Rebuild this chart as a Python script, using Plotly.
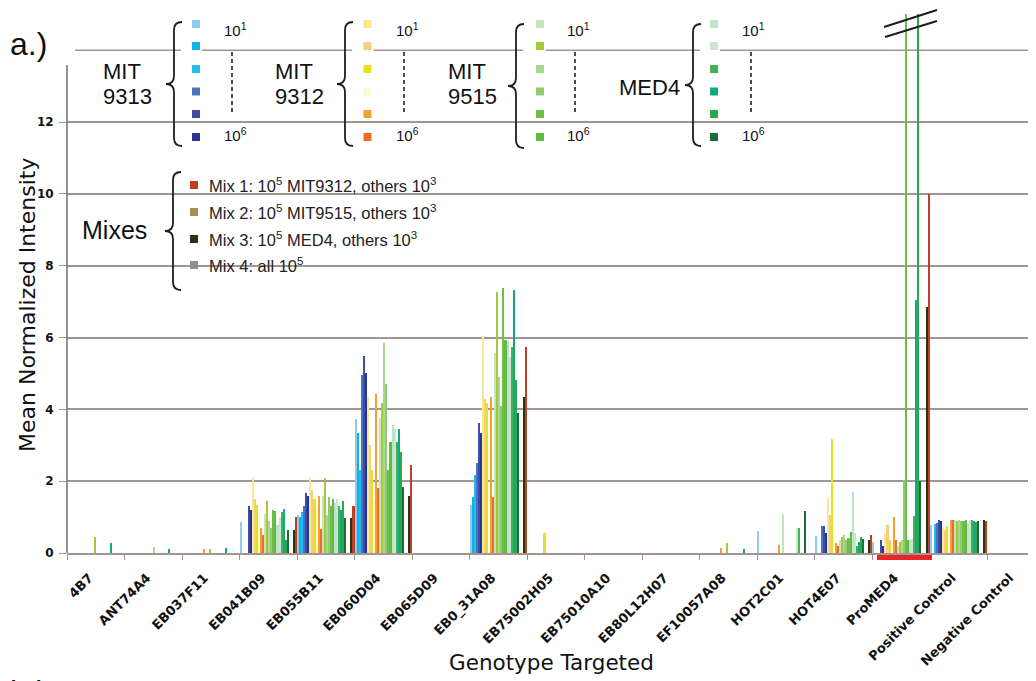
import plotly.graph_objects as go

categories = ["4B7", "ANT74A4", "EB037F11", "EB041B09", "EB055B11", "EB060D04",
              "EB065D09", "EB0_31A08", "EB75002H05", "EB75010A10", "EB80L12H07",
              "EF10057A08", "HOT2C01", "HOT4E07", "ProMED4", "Positive Control",
              "Negative Control"]

# rows: dilution 10^1 ... 10^6 ; columns: categories
mit9313 = [
    [0, 0, 0, 0.87, 1.06, 3.72, 0, 1.34, 0, 0, 0, 0, 0.6, 0.47, 0.3, 0.78, 0],
    [0, 0, 0, 0, 1.0, 3.34, 0, 1.57, 0, 0, 0, 0, 0, 0, 0, 0, 0],
    [0, 0, 0, 0, 1.15, 2.31, 0, 2.17, 0, 0, 0, 0, 0, 0, 0, 0.8, 0],
    [0, 0, 0, 0, 1.3, 4.96, 0, 2.52, 0, 0, 0, 0, 0, 0.75, 0, 0.83, 0],
    [0, 0, 0, 1.32, 1.67, 5.49, 0, 3.61, 0, 0, 0, 0, 0, 0.75, 0.36, 0.92, 0],
    [0, 0, 0, 1.2, 1.58, 5.0, 0, 3.34, 0, 0, 0, 0, 0, 0.55, 0.2, 0.9, 0],
]
mit9312 = [
    [0, 0, 0, 2.12, 2.12, 4.35, 0, 6.03, 0, 0, 0, 0, 0, 1.53, 0.55, 0.7, 0],
    [0, 0, 0, 1.5, 1.75, 3.0, 0, 4.3, 0, 0, 0, 0, 0, 1.05, 0.78, 0.64, 0],
    [0, 0, 0, 1.35, 1.5, 2.3, 0, 4.17, 0.55, 0, 0, 0, 0, 3.18, 0.35, 0.75, 0],
    [0, 0, 0, 1.0, 1.2, 1.5, 0, 0, 0, 0, 0, 0, 0, 0, 0, 0, 0],
    [0, 0, 0.1, 0.69, 1.6, 4.43, 0, 4.35, 0, 0, 0, 0.15, 0.22, 0.27, 1.0, 0.93, 0],
    [0, 0, 0, 0.5, 0.68, 1.8, 0, 1.57, 0, 0, 0, 0, 0, 0.2, 0.36, 0.93, 0],
]
mit9515 = [
    [0, 0, 0, 1.1, 1.58, 3.76, 0, 5.57, 0, 0, 0, 0, 1.1, 0.36, 0.2, 0.92, 0],
    [0.45, 0, 0.12, 1.46, 2.1, 4.17, 0, 7.28, 0, 0, 0, 0.28, 0, 0.45, 0.3, 0.9, 0],
    [0, 0.17, 0, 0.9, 1.05, 5.85, 0, 4.91, 0, 0, 0, 0, 0, 0.5, 0.36, 0.92, 0],
    [0, 0, 0, 0.7, 1.55, 4.7, 0, 4.08, 0, 0, 0, 0, 0, 0.36, 2.03, 0.9, 0],
    [0, 0, 0, 1.2, 1.3, 2.3, 0, 7.37, 0, 0, 0, 0, 0, 0.43, 15.0, 0.88, 0],
    [0, 0, 0, 1.18, 1.5, 3.1, 0, 5.93, 0, 0, 0, 0, 0, 0.58, 0.36, 0.92, 0],
]
med4 = [
    [0, 0, 0, 0.77, 1.4, 3.56, 0, 5.9, 0, 0, 0, 0, 0, 1.71, 0.36, 0.8, 0],
    [0, 0, 0, 1.0, 1.5, 3.44, 0, 5.47, 0, 0, 0, 0, 0.7, 0.55, 0.4, 0.93, 0],
    [0, 0, 0, 1.15, 1.3, 3.1, 0, 5.75, 0, 0, 0, 0, 0.7, 0.2, 1.03, 0.92, 0],
    [0.27, 0.1, 0.15, 1.22, 1.2, 3.45, 0, 7.33, 0, 0, 0, 0.1, 0, 0.3, 7.05, 0.9, 0],
    [0, 0, 0, 0.35, 1.45, 2.82, 0, 4.82, 0, 0, 0, 0, 0, 0.45, 15.0, 0.85, 0],
    [0, 0, 0, 0.63, 0.97, 1.85, 0, 3.89, 0, 0, 0, 0, 1.18, 0.4, 2.0, 0.9, 0],
]
mix1 = [0, 0, 0, 1.0, 1.32, 2.45, 0, 5.75, 0, 0, 0, 0, 0, 0.5, 10.0, 0.9, 0]
mix2 = [0, 0, 0, 0, 0, 0, 0, 0, 0, 0, 0, 0, 0, 0, 0, 0, 0]
mix3 = [0, 0, 0, 0.65, 0.97, 1.6, 0, 4.35, 0, 0, 0, 0, 0, 0.36, 6.85, 0.93, 0]
mix4 = [0, 0, 0, 0, 0, 0, 0, 0, 0, 0, 0, 0, 0, 0, 0, 0, 0]

dilutions = ["10^1", "10^2", "10^3", "10^4", "10^5", "10^6"]
y_ticks = [0, 2, 4, 6, 8, 10, 12]
y_top_grid = 14

c9313 = ["#8dcbef", "#0cb3ea", "#27bce8", "#4a74c0", "#3b4cad", "#2d3394"]
c9312 = ["#f2eb94", "#f7cf7a", "#e9e11e", "#fdf8d6", "#f6a031", "#f06b27"]
c9515 = ["#c4e4bf", "#a4c93a", "#a9d88e", "#8fcd73", "#6ebf44", "#5fbb45"]
cmed4 = ["#c0e3c7", "#c8e6d0", "#43b157", "#13a97f", "#2aa84b", "#1b6d38"]
cmix = {"Mix 1": "#bf3f26", "Mix 2": "#a88a52", "Mix 3": "#263612", "Mix 4": "#8c9199"}

strains = [("MIT9313", mit9313, c9313), ("MIT9312", mit9312, c9312),
           ("MIT9515", mit9515, c9515), ("MED4", med4, cmed4)]
mixes = [("Mix 2", mix2), ("Mix 4", mix4), ("Mix 3", mix3), ("Mix 1", mix1)]

# display labels: trailing no-break spaces pull rotated labels off the tick
x_labels = [c + "\u00a0\u00a0" for c in categories]

fig = go.Figure()
for name, rows, cols in strains:
    for d, vals, col in zip(dilutions, rows, cols):
        fig.add_bar(x=x_labels, y=vals, name=f"{name} {d}",
                    marker=dict(color=col, line=dict(width=0)))
for name, vals in mixes:
    fig.add_bar(x=x_labels, y=vals, name=name,
                marker=dict(color=cmix[name], line=dict(width=0)))

# page body has an 8px offset; figure drawn in page coords shifted by 8
OFF = 8
W, H = 1036 - OFF, 681 - OFF
PL, PT, PB, PR = 67, 14, 553, 1036          # plot area in reference pixels
ML, MT = PL - OFF, PT - OFF
MB = H - (PB - OFF)
MR = 0
PW, PH = PR - PL, PB - PT


def px(x):
    return (x - PL) / PW


def py(y):
    return (PB - y) / PH


GRIDC = "#a49592"
FONT = "Liberation Sans, Arial, sans-serif"
VFONT = "DejaVu Sans, Verdana, sans-serif"

shapes = []
annotations = []

# top gridline (no tick label in the reference)
shapes.append(dict(type="line", xref="paper", yref="y",
                   x0=px(75), x1=1, y0=y_top_grid, y1=y_top_grid,
                   line=dict(color=GRIDC, width=1.5), layer="below"))


def brace(xr, xl, yt, yb):
    xm = (xr + xl) / 2
    ym = (yt + yb) / 2
    d = (xr - xl) / 2
    pts = [("M", [(xr, yt)]),
           ("Q", [(xm, yt), (xm, yt + d)]),
           ("L", [(xm, ym - d)]),
           ("Q", [(xm, ym), (xl, ym)]),
           ("Q", [(xm, ym), (xm, ym + d)]),
           ("L", [(xm, yb - d)]),
           ("Q", [(xm, yb), (xr, yb)])]
    path = ""
    for cmd, ps in pts:
        path += cmd + " " + " ".join(f"{px(a):.5f},{py(b):.5f}" for a, b in ps) + " "
    shapes.append(dict(type="path", path=path, xref="paper", yref="paper",
                       line=dict(color="#1e1e1e", width=1.8), layer="above"))


def rect(x0, y0, x1, y1, color, layer="above"):
    shapes.append(dict(type="rect", xref="paper", yref="paper",
                       x0=px(x0), x1=px(x1), y0=py(y1), y1=py(y0),
                       fillcolor=color, line=dict(width=0), layer=layer))


def text(s, x, y, size, xanchor="left", font=FONT, angle=0, color="#111"):
    annotations.append(dict(text=s, x=px(x), y=py(y), xref="paper", yref="paper",
                            xanchor=xanchor, yanchor="middle", showarrow=False,
                            textangle=angle,
                            font=dict(family=font, size=size, color=color)))


# strain legend blocks
square_y = [24, 46, 69, 91.5, 114, 137]
blocks = [
    (c9313, ["MIT", "9313"], 101, (182, 166, 22, 146), 196, 222, 232),
    (c9312, ["MIT", "9312"], 273, (353, 337, 22, 146), 367.5, 394, 404),
    (c9515, ["MIT", "9515"], 446, (524, 508, 24, 148), 540, 565, 575),
    (cmed4, ["MED4"], 617, (701, 685, 24, 146), 714, 740, 751),
]
for cols, label, lx, br, sx, tx, dx in blocks:
    rect(br[0] - 1, 18, sx + 6, 150, "white", layer="between")
    brace(*br)
    if len(label) == 2:
        text(label[0], lx, 72, 22)
        text(label[1], lx, 96, 22)
    else:
        text(label[0], lx, 88, 22)
    for col, sy in zip(cols, square_y):
        rect(sx - 4, sy - 4, sx + 4, sy + 4, col)
    text("10<sup>1</sup>", tx, 30, 15)
    text("10<sup>6</sup>", tx, 134, 15)
    shapes.append(dict(type="line", xref="paper", yref="paper",
                       x0=px(dx), x1=px(dx), y0=py(52), y1=py(115),
                       line=dict(color="#222", width=1.6, dash="4px,3px")))

# mixes legend
mix_rows = [("Mix 1", "Mix 1: 10<sup>5</sup> MIT9312, others 10<sup>3</sup>", 185),
            ("Mix 2", "Mix 2: 10<sup>5</sup> MIT9515, others 10<sup>3</sup>", 212),
            ("Mix 3", "Mix 3: 10<sup>5</sup> MED4, others 10<sup>3</sup>", 239),
            ("Mix 4", "Mix 4: all 10<sup>5</sup>", 265)]
rect(180, 170, 200, 292, "white", layer="between")
brace(181, 165, 172, 290)
text("Mixes", 80, 230, 25)
for key, label, yy in mix_rows:
    rect(190, yy - 4, 198, yy + 4, cmix[key])
    text(label, 207, yy, 16.5, color="#222")

# panel letters
text("a.)", 8, 44, 32)
text("b.)", 8, 692, 32)

# axis titles
text("Mean Normalized Intensity", 27, 305, 22, xanchor="center", angle=-90,
     font=VFONT)
text("Genotype Targeted", 551, 662, 21.5, xanchor="center", font=VFONT)

# y axis line
shapes.append(dict(type="line", xref="paper", yref="paper",
                   x0=0, x1=0, y0=0, y1=py(65),
                   line=dict(color="#7d6d69", width=1.5)))
# axis break marks
shapes.append(dict(type="line", xref="paper", yref="paper",
                   x0=px(884), y0=py(27), x1=px(937), y1=py(10),
                   line=dict(color="#1e1e1e", width=2)))
shapes.append(dict(type="line", xref="paper", yref="paper",
                   x0=px(885), y0=py(37), x1=px(937), y1=py(21),
                   line=dict(color="#1e1e1e", width=2)))
# red marker under ProMED4
rect(877, 555, 932, 560, "#e8262a")

fig.update_layout(
    width=W, height=H,
    margin=dict(l=ML, r=MR, t=MT, b=MB, pad=0),
    barmode="group", bargap=0, bargroupgap=0,
    plot_bgcolor="white", paper_bgcolor="white",
    showlegend=False,
    shapes=shapes, annotations=annotations,
    xaxis=dict(type="category", range=[-0.5, 16.35], tickangle=-45,
               tickfont=dict(family=VFONT, size=13, color="#111", weight="bold"),
               ticks="outside", tickson="boundaries", ticklen=5,
               ticklabelstandoff=4,
               tickcolor=GRIDC, showline=True, linecolor=GRIDC, linewidth=1.5,
               showgrid=False),
    yaxis=dict(range=[0, 15.01], tickvals=y_ticks,
               tickfont=dict(family=VFONT, size=12, color="#111", weight="bold"),
               showgrid=True, gridcolor=GRIDC, gridwidth=1.5,
               ticks="outside", ticklen=7, tickcolor=GRIDC,
               ticklabelstandoff=3,
               showline=False, zeroline=False),
)

fig.write_html("out.html")
